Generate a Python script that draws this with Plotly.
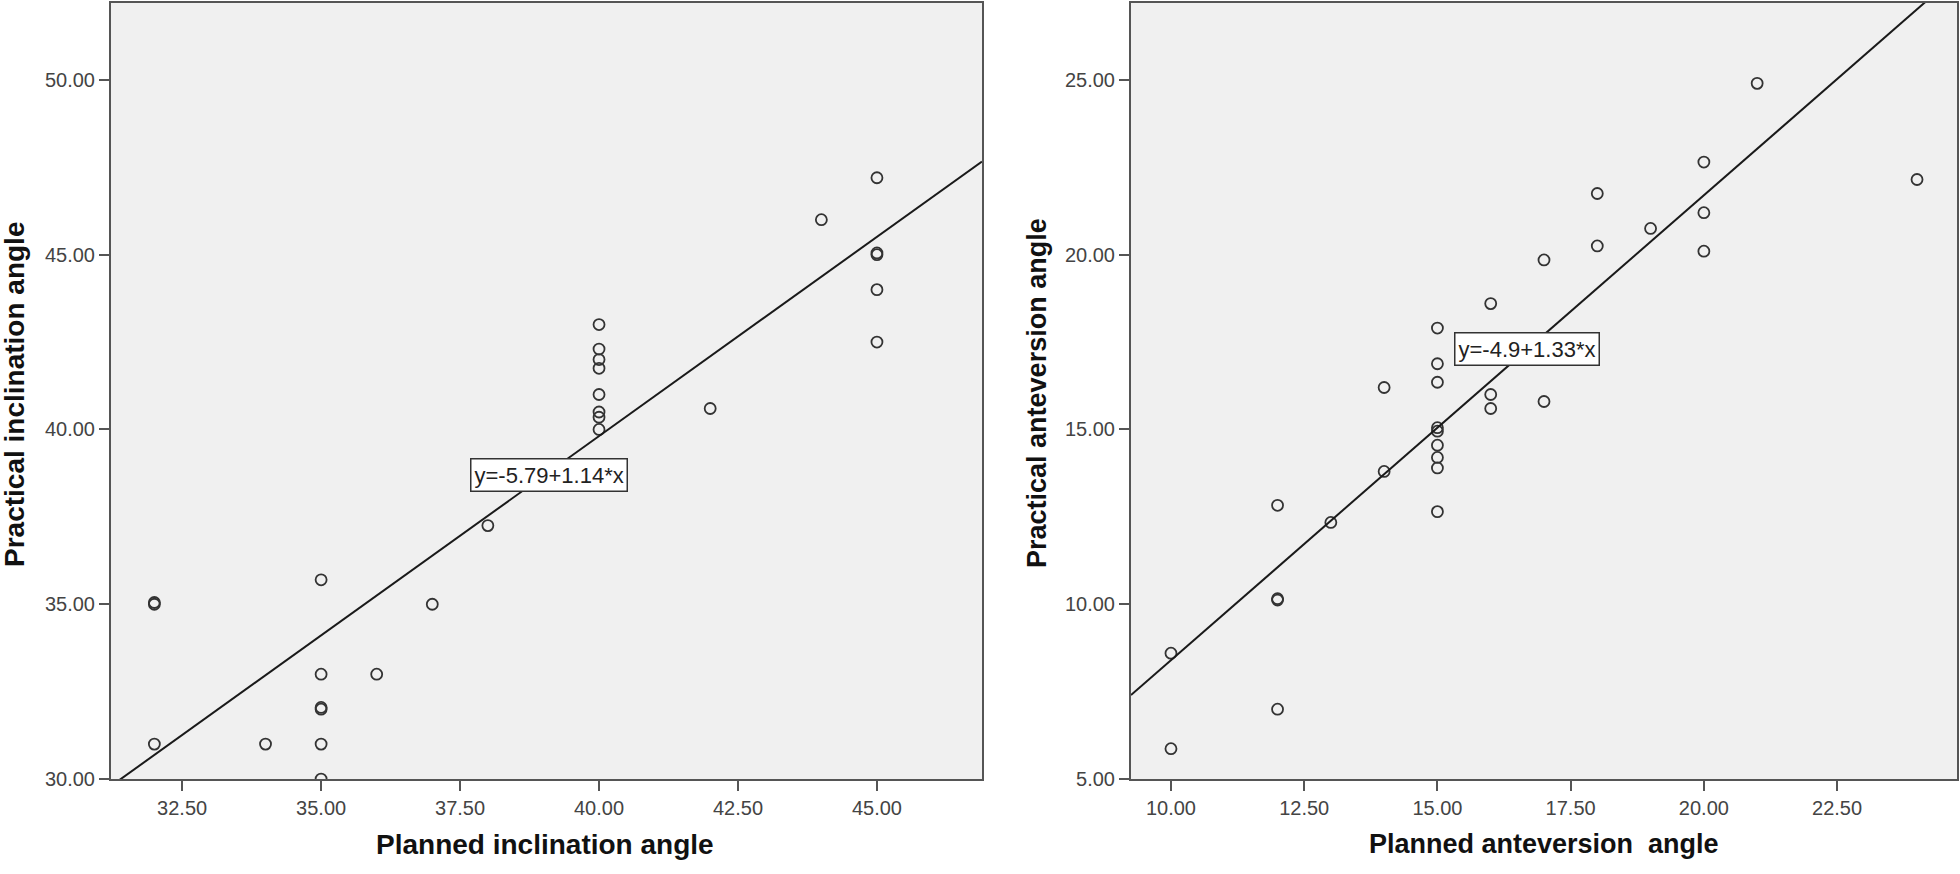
import plotly.graph_objects as go
from plotly.subplots import make_subplots

# ---- data ----

# left panel: inclination
planned_incl = [32, 32, 32, 34, 35, 35, 35, 35, 35, 35, 36, 37, 38,
                40, 40, 40, 40, 40, 40, 40, 40, 42, 44, 45, 45, 45, 45, 45]
practical_incl = [35.0, 35.05, 31.0, 31.0, 35.7, 33.0, 32.0, 32.05, 31.0, 30.0, 33.0, 35.0, 37.25,
                  43.0, 42.3, 42.0, 41.75, 41.0, 40.5, 40.35, 40.0, 40.6, 46.0, 47.2, 45.0, 45.05, 44.0, 42.5]
incl_fit = (-5.79, 1.14)
incl_label = "y=-5.79+1.14*x"

# right panel: anteversion
planned_ante = [10, 10, 12, 12, 12, 12, 13, 14, 14, 15, 15, 15, 15, 15, 15, 15, 15, 15,
                16, 16, 16, 17, 17, 18, 18, 19, 20, 20, 20, 21, 24]
practical_ante = [8.6, 5.87, 12.83, 10.12, 10.16, 7.0, 12.34, 13.8, 16.2, 17.9, 16.88, 16.35, 15.05,
                  14.95, 14.55, 14.2, 13.9, 12.65, 18.6, 16.0, 15.6, 19.85, 15.8, 21.75, 20.25,
                  20.75, 22.65, 21.2, 20.1, 24.9, 22.15]
ante_fit = (-4.9, 1.33)
ante_label = "y=-4.9+1.33*x"

incl_xrange = [31.22, 46.89]
incl_yrange = [30, 52.2]
ante_xrange = [9.25, 24.75]
ante_yrange = [5, 27.2]

W, H = 1960, 874

fig = make_subplots(rows=1, cols=2)

mk = dict(symbol="circle-open", size=11, color="#333333", line=dict(width=1.8, color="#333333"))

fig.add_trace(go.Scatter(x=planned_incl, y=practical_incl, mode="markers", marker=mk), row=1, col=1)
fig.add_trace(go.Scatter(x=incl_xrange,
                         y=[incl_fit[0] + incl_fit[1] * v for v in incl_xrange],
                         mode="lines", line=dict(color="#1a1a1a", width=2)), row=1, col=1)

fig.add_trace(go.Scatter(x=planned_ante, y=practical_ante, mode="markers", marker=mk), row=1, col=2)
fig.add_trace(go.Scatter(x=ante_xrange,
                         y=[ante_fit[0] + ante_fit[1] * v for v in ante_xrange],
                         mode="lines", line=dict(color="#1a1a1a", width=2)), row=1, col=2)

axis_style = dict(showline=True, mirror=True, linecolor="#555555", linewidth=2,
                  ticks="outside", ticklen=10, tickwidth=2, tickcolor="#555555",
                  showgrid=False, zeroline=False, tickformat=".2f",
                  tickfont=dict(family="Liberation Sans", size=20, color="#444444"))

ydom = [1 - 789 / H, 1 - 3 / H]
fig.update_xaxes(axis_style)
fig.update_yaxes(axis_style)
fig.update_xaxes(domain=[111 / W, 982 / W], range=incl_xrange, tick0=32.5, dtick=2.5, row=1, col=1)
fig.update_yaxes(domain=ydom, range=incl_yrange, tick0=30, dtick=5, row=1, col=1)
fig.update_xaxes(domain=[1131 / W, 1957 / W], range=ante_xrange, tick0=10, dtick=2.5, row=1, col=2)
fig.update_yaxes(domain=ydom, range=ante_yrange, tick0=5, dtick=5, row=1, col=2)


def tfont(size):
    return dict(family="Liberation Sans", size=size, color="#111111")


box_font = dict(family="Liberation Sans", size=22, color="#222222")

annotations = [
    dict(text="<b>Planned inclination angle</b>", x=545 / W, y=1 - 855 / H, xref="paper", yref="paper",
         showarrow=False, font=tfont(28), xanchor="center", yanchor="middle"),
    dict(text="<b>Practical inclination angle</b>", x=15 / W, y=1 - 400 / H, xref="paper", yref="paper",
         showarrow=False, font=tfont(28), textangle=-90, xanchor="center", yanchor="middle"),
    dict(text="<b>Planned anteversion\u00a0 angle</b>", x=1544 / W, y=1 - 855 / H, xref="paper", yref="paper",
         showarrow=False, font=tfont(27), xanchor="center", yanchor="middle"),
    dict(text="<b>Practical anteversion angle</b>", x=1037 / W, y=1 - 398 / H, xref="paper", yref="paper",
         showarrow=False, font=tfont(27), textangle=-90, xanchor="center", yanchor="middle"),
    dict(text=incl_label, x=39.1, y=38.71, xref="x", yref="y", showarrow=False, font=box_font,
         bgcolor="white", bordercolor="#333333", borderwidth=1.5, borderpad=3),
    dict(text=ante_label, x=16.69, y=17.29, xref="x2", yref="y2", showarrow=False, font=box_font,
         bgcolor="white", bordercolor="#333333", borderwidth=1.5, borderpad=3),
]

fig.update_layout(
    width=W,
    height=H,
    showlegend=False,
    margin=dict(l=0, r=0, t=0, b=0, pad=0),
    plot_bgcolor="#f0f0f0",
    paper_bgcolor="white",
    annotations=annotations,
)

# the page body has a default 8px margin; drop it so the figure sits at 0,0
fig.write_html("out.html", config={"displayModeBar": False},
               post_script="document.body.style.margin='0';document.body.style.overflow='hidden';")
